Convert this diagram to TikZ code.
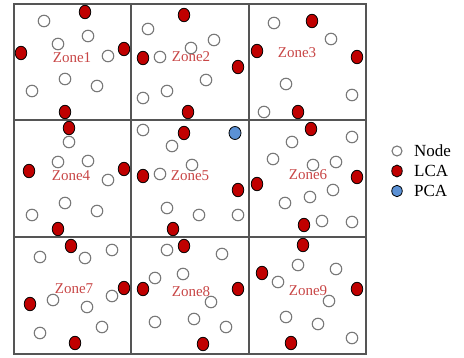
\documentclass[tikz,border=0pt]{standalone}
\usepackage{fontspec}
\setmainfont{Liberation Serif}
\usetikzlibrary{shapes.geometric}
\definecolor{gridc}{RGB}{85,85,85}
\definecolor{ringc}{RGB}{120,120,120}
\definecolor{lcac}{RGB}{192,0,0}
\definecolor{pcac}{RGB}{91,145,213}
\definecolor{zonec}{RGB}{200,70,70}
\begin{document}
\begin{tikzpicture}[x=1pt,y=-1pt,
  wn/.style={circle,draw=ringc,line width=1.1pt,fill=white,minimum size=11.5pt,inner sep=0pt},
  lca/.style={ellipse,draw=black,line width=0.8pt,fill=lcac,minimum width=11.5pt,minimum height=13.5pt,inner sep=0pt},
  pca/.style={ellipse,draw=black,line width=0.8pt,fill=pcac,minimum width=12pt,minimum height=13pt,inner sep=0pt},
  zlab/.style={text=zonec,font=\fontsize{15}{17}\selectfont,inner sep=0pt},
  leg/.style={font=\fontsize{17}{19}\selectfont,anchor=west,inner sep=0pt},
  gridl/.style={draw=gridc,line width=1.3pt}]
\useasboundingbox (0,0) rectangle (464,358);
% grid
\draw[gridl] (14,4) rectangle (366,354);
\draw[gridl] (131,4) -- (131,354) (249,4) -- (249,354);
\draw[gridl] (14,120) -- (366,120) (14,237) -- (366,237);
% ordinary nodes
\foreach \p [count=\i] in {(44,21),(88,36),(58,44),(108,56),(65,79),(32,91),(97,86),
  (148,29),(214,40),(191,48),(160,57),(206,80),(167,91),(143,98),
  (274,23),(331,39),(286,84),(352,95),(264,112),
  (69,142),(58,162),(88,161),(108,180),(65,203),(32,215),(97,211),
  (143,130),(172,146),(192,165),(160,174),(167,208),(199,215),(238,215),
  (352,137),(292,142),(273,159),(313,165),(336,162),(333,190),(310,197),(285,203),(322,221),(352,222),
  (40,257),(85,258),(112,250),(112,296),(53,300),(87,307),(102,327),(40,333),
  (167,250),(222,254),(155,278),(183,274),(211,302),(155,322),(194,319),(226,327),
  (298,265),(336,269),(278,282),(329,301),(286,317),(318,324),(352,338)}
  \node[wn] (w\i) at \p {};
% LCA nodes
\foreach \p [count=\i] in {(85,12),(21,53),(124,49),(65,112),
  (184,15),(143,58),(238,67),(188,112),
  (312,21),(257,51),(357,57),(298,112),
  (69,128),(29,171),(124,169),(58,229),
  (184,133),(143,176),(238,190),(173,229),
  (311,129),(257,184),(357,177),(304,225),
  (71,246),(124,288),(30,304),(75,343),
  (184,246),(143,289),(238,289),(203,344),
  (303,245),(262,273),(357,289),(291,343)}
  \node[lca] (r\i) at \p {};
% PCA
\node[pca] (b1) at (235,133) {};
% zone labels
\node[zlab] (z1) at (72,58) {Zone1};
\node[zlab] (z2) at (191,57) {Zone2};
\node[zlab] (z3) at (297,53) {Zone3};
\node[zlab] (z4) at (71,176) {Zone4};
\node[zlab] (z5) at (190,176) {Zone5};
\node[zlab] (z6) at (308,175) {Zone6};
\node[zlab] (z7) at (74,289) {Zone7};
\node[zlab] (z8) at (191,292) {Zone8};
\node[zlab] (z9) at (308,291) {Zone9};
% legend
\node[wn,minimum size=10pt] (lw) at (397,151) {};
\node[lca,minimum width=10.5pt,minimum height=12pt] (lr) at (397,171) {};
\node[pca,minimum width=10.5pt,minimum height=11.5pt] (lb) at (397,191) {};
\node[leg] (tw) at (414,151) {Node};
\node[leg] (tr) at (414,171) {LCA};
\node[leg] (tb) at (414,191) {PCA};
\end{tikzpicture}
\end{document}
